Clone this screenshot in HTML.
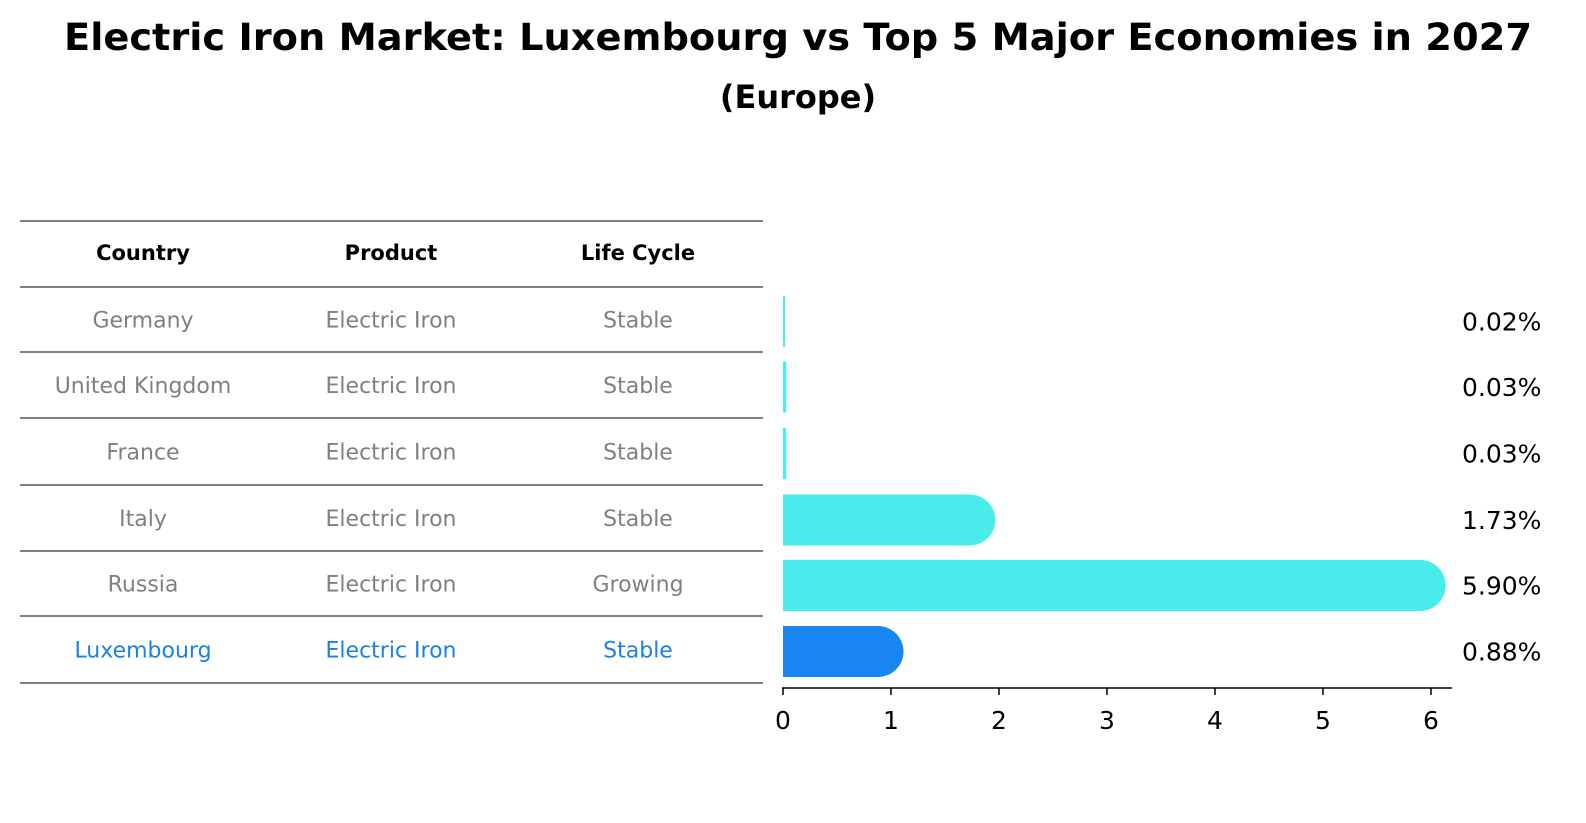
<!DOCTYPE html>
<html><head><meta charset="utf-8"><style>
html,body{margin:0;padding:0;background:#fff;overflow:hidden;width:1586px;height:823px}
svg{display:block}
</style></head><body>
<svg width="1586" height="823" viewBox="0 0 1586 823" font-family="DejaVu Sans, Liberation Sans, sans-serif">
<text x="798" y="50" text-anchor="middle" font-size="37" font-weight="bold" textLength="1468" lengthAdjust="spacingAndGlyphs">Electric Iron Market: Luxembourg vs Top 5 Major Economies in 2027</text>
<text x="798" y="108" text-anchor="middle" font-size="32" font-weight="bold">(Europe)</text>
<g id="table"></g>
<g id="bars"></g>
</svg>
<script>
const countries=["Germany","United Kingdom","France","Italy","Russia","Luxembourg"];
const products=["Electric Iron","Electric Iron","Electric Iron","Electric Iron","Electric Iron","Electric Iron"];
const lifecycles=["Stable","Stable","Stable","Stable","Growing","Stable"];
const values=[0.02,0.03,0.03,1.73,5.90,0.88];
const ticks=[0,1,2,3,4,5,6];
const NS="http://www.w3.org/2000/svg";
function mk(t,a,p){const e=document.createElementNS(NS,t);for(const k in a)e.setAttribute(k,a[k]);p.appendChild(e);return e;}
const tbl=document.getElementById('table'),bars=document.getElementById('bars');
const x=v=>783+v*108;
const lineYs=[221,287,352,418,485,551,616,683];
lineYs.forEach((y)=>{const l=mk('line',{x1:20,x2:763,y1:y,y2:y,stroke:'#000','stroke-width':1},tbl);

});
const colX=[143,391,638];
["Country","Product","Life Cycle"].forEach((h,j)=>{const t=mk('text',{x:colX[j],y:260,'text-anchor':'middle','font-size':21,'font-weight':'bold'},tbl);t.textContent=h;

});
countries.forEach((c,i)=>{
  const rc=(lineYs[i+1]+lineYs[i+2])/2;
  const col=c==="Luxembourg"?"#1a82e0":"#808080";
  [c,products[i],lifecycles[i]].forEach((s,j)=>{const t=mk('text',{x:colX[j],y:rc+8,'text-anchor':'middle','font-size':22,fill:col},tbl);t.textContent=s;
  
  });
  const by=rc+2;
  const fill=c==="Luxembourg"?"#1a86f2":"#4aeceb";
  const w=Math.max(2,x(values[i])-x(0));
  const r=mk('rect',{x:783,y:by-25.5,width:w,height:51,fill:fill},bars);
  
  
  if(values[i]>0.5){const cc=mk('circle',{cx:x(values[i]),cy:by,r:25.5,fill:fill},bars);
    
    }
  const lb=mk('text',{x:1462,y:by+9,'font-size':25},bars);lb.textContent=values[i].toFixed(2)+'%';
  
  
});
const ax=mk('line',{x1:782,x2:1452,y1:688,y2:688,stroke:'#000','stroke-width':1.5},bars);


ticks.forEach(t=>{const tl=mk('line',{x1:x(t),x2:x(t),y1:688,y2:695,stroke:'#000','stroke-width':1.5},bars);


const tt=mk('text',{x:x(t),y:729,'text-anchor':'middle','font-size':25},bars);tt.textContent=t;

});
</script>
</body></html>
